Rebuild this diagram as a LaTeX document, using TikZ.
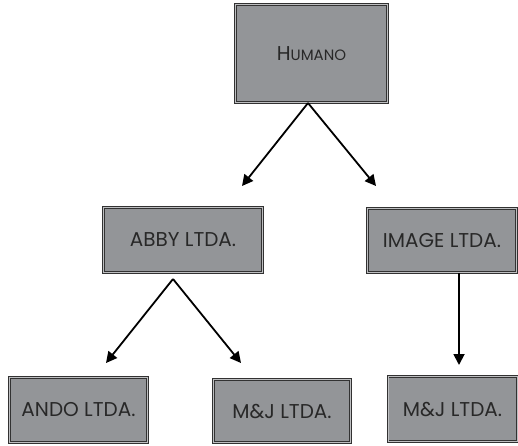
\documentclass[tikz,border=0pt]{standalone}
\usepackage{fontspec}
\setmainfont{Poppins}
\usetikzlibrary{arrows.meta}
\definecolor{boxfill}{RGB}{147,149,152}
\definecolor{boxline}{RGB}{50,50,50}
\definecolor{boxtext}{RGB}{40,40,40}
\tikzset{
    BX/.style ={rectangle, draw=boxline, double=boxfill!60!white, double distance=0.9pt,
        line width=0.9pt, fill=boxfill, text=boxtext, inner sep=0pt,
        font=\fontsize{20}{22}\selectfont},
    AR/.style ={line width=1.8pt, -{Triangle[length=11pt,width=11pt]}}}
\begin{document}
\begin{tikzpicture}[x=1pt,y=-1pt]
        \useasboundingbox (0,0) rectangle (518,445);
        \node[BX, minimum width=152pt, minimum height=98pt] (1) at(311.5,53.5)
            {H{\fontsize{15}{17}\selectfont UMANO}};
        \node[BX, minimum width=159pt, minimum height=65pt] (2) at(183,240){ABBY LTDA.};
        \node[BX, minimum width=149pt, minimum height=64pt] (3) at(442,240.5){IMAGE LTDA.};
        \node[BX, minimum width=138pt, minimum height=65pt] (4) at(78.5,410){ANDO LTDA.};
        \node[BX, minimum width=137pt, minimum height=63pt] (5) at(282,411){M\&J LTDA.};
        \node[BX, minimum width=129pt, minimum height=65pt] (6) at(452.5,409){M\&J LTDA.};
        % free ends of the arrows
        \coordinate (1a) at (308,103);
        \coordinate (1l) at (242,186);
        \coordinate (1r) at (376,186);
        \coordinate (2a) at (173,279);
        \coordinate (2l) at (106,363);
        \coordinate (2r) at (241,363);
        \coordinate (3b) at (459,365);
        \draw[AR] (1a) --(1l);
        \draw[AR] (1a) --(1r);
        \draw[AR] (2a) --(2l);
        \draw[AR] (2a) --(2r);
        \draw[AR] (3.south -| 3b) --(3b);
    \end{tikzpicture}
\end{document}
